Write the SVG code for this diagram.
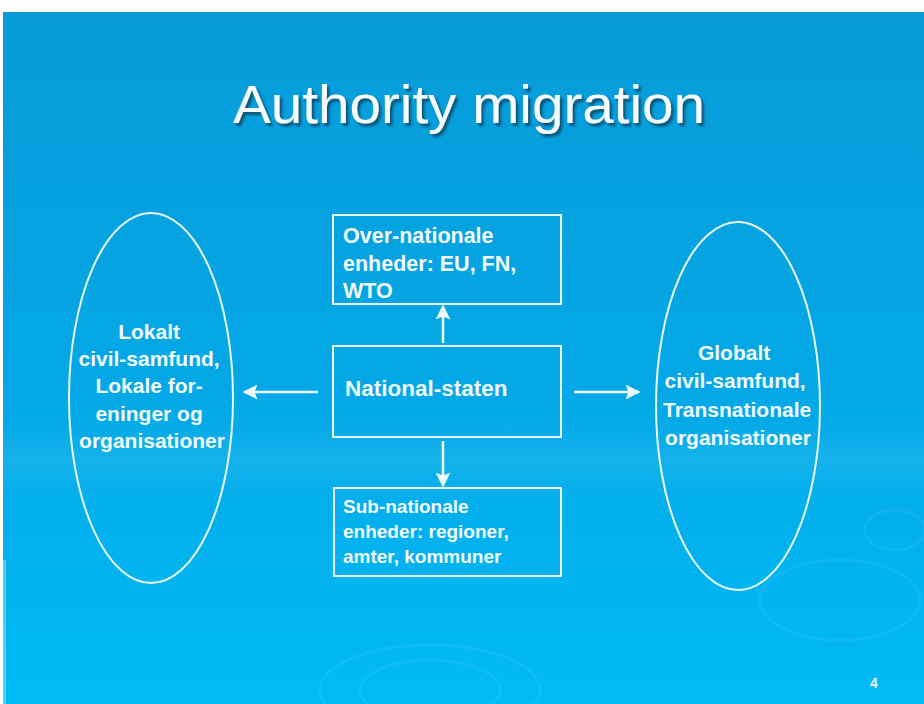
<svg xmlns="http://www.w3.org/2000/svg" width="924" height="704" viewBox="0 0 924 704">
  <defs>
    <linearGradient id="bg" x1="0" y1="0" x2="0" y2="1">
      <stop offset="0" stop-color="#079bd8"/>
      <stop offset="0.55" stop-color="#04a8e6"/>
      <stop offset="1" stop-color="#00bbf6"/>
    </linearGradient>
    <linearGradient id="band" x1="0" y1="0" x2="0" y2="1">
      <stop offset="0" stop-color="#ffffff" stop-opacity="0"/>
      <stop offset="0.5" stop-color="#ffffff" stop-opacity="0.07"/>
      <stop offset="1" stop-color="#ffffff" stop-opacity="0"/>
    </linearGradient>
    <filter id="shadow" x="-5%" y="-20%" width="110%" height="140%">
      <feDropShadow dx="2.5" dy="3" stdDeviation="1" flood-color="#15324a" flood-opacity="0.7"/>
    </filter>
    <marker id="ah" viewBox="0 0 10 10" refX="9" refY="5" markerWidth="6" markerHeight="6" orient="auto" markerUnits="strokeWidth">
      <path d="M0,0 L10,5 L0,10 L2,5 Z" fill="#eef9ff"/>
    </marker>
    <style>
      .shape { fill: none; stroke: #e8f7ff; stroke-width: 2; }
      .conn { stroke: #eef9ff; stroke-width: 2.5; fill: none; marker-end: url(#ah); }
      .lbl { font-family: "Liberation Sans", Arial, sans-serif; font-weight: bold; fill: #f2fbff; }
      .ripple { fill: none; stroke: #ffffff; stroke-opacity: 0.06; stroke-width: 3; }
    </style>
  </defs>

  <rect x="0" y="0" width="924" height="704" fill="#ffffff"/>
  <rect x="3" y="12" width="921" height="692" fill="url(#bg)"/>
  <rect x="3" y="420" width="921" height="80" fill="url(#band)"/>
  <rect x="3" y="560" width="3" height="144" fill="#7fe0ff" opacity="0.6"/>

  <g id="decor">
    <ellipse class="ripple" cx="430" cy="690" rx="70" ry="30"/>
    <ellipse class="ripple" cx="430" cy="690" rx="110" ry="45"/>
    <ellipse class="ripple" cx="840" cy="600" rx="80" ry="40"/>
    <ellipse class="ripple" cx="895" cy="530" rx="30" ry="20"/>
  </g>

  <g id="title">
    <text x="469" y="123" text-anchor="middle" font-family="Liberation Sans, Arial, sans-serif" font-size="53" fill="#f6fcff" textLength="472" lengthAdjust="spacingAndGlyphs" filter="url(#shadow)">Authority migration</text>
  </g>

  <g id="node-over">
    <rect class="shape" x="333" y="215" width="228" height="89"/>
    <text class="lbl" font-size="21.5">
      <tspan x="343" y="243">Over-nationale</tspan>
      <tspan x="343" y="271">enheder: EU, FN,</tspan>
      <tspan x="343" y="298">WTO</tspan>
    </text>
  </g>

  <g id="node-national">
    <rect class="shape" x="333" y="346" width="228" height="91"/>
    <text class="lbl" x="345" y="396" font-size="22.5">National-staten</text>
  </g>

  <g id="node-sub">
    <rect class="shape" x="334" y="488" width="227" height="88"/>
    <text class="lbl" font-size="19">
      <tspan x="343" y="513">Sub-nationale</tspan>
      <tspan x="343" y="538">enheder: regioner,</tspan>
      <tspan x="343" y="563">amter, kommuner</tspan>
    </text>
  </g>

  <g id="node-local">
    <ellipse class="shape" cx="151" cy="398" rx="82" ry="185"/>
    <text class="lbl" font-size="21" text-anchor="middle">
      <tspan x="152" y="339">Lokalt</tspan>
      <tspan x="152" y="366">civil-samfund,</tspan>
      <tspan x="152" y="393">Lokale for-</tspan>
      <tspan x="152" y="421">eninger og</tspan>
      <tspan x="152" y="448">organisationer</tspan>
    </text>
  </g>

  <g id="node-global">
    <ellipse class="shape" cx="738" cy="406" rx="82" ry="184"/>
    <text class="lbl" font-size="21" text-anchor="middle">
      <tspan x="737" y="360">Globalt</tspan>
      <tspan x="738" y="388">civil-samfund,</tspan>
      <tspan x="740" y="417">Transnationale</tspan>
      <tspan x="738" y="445">organisationer</tspan>
    </text>
  </g>

  <g id="connectors">
    <line class="conn" x1="443" y1="343" x2="443" y2="306"/>
    <line class="conn" x1="443" y1="441" x2="443" y2="486"/>
    <line class="conn" x1="574" y1="392" x2="639" y2="392"/>
    <line class="conn" x1="318" y1="392" x2="244" y2="392"/>
  </g>

  <g id="page-number">
    <text x="874" y="688" text-anchor="middle" font-family="Liberation Sans, Arial, sans-serif" font-weight="bold" font-size="14" fill="#f2fbff">4</text>
  </g>
</svg>
